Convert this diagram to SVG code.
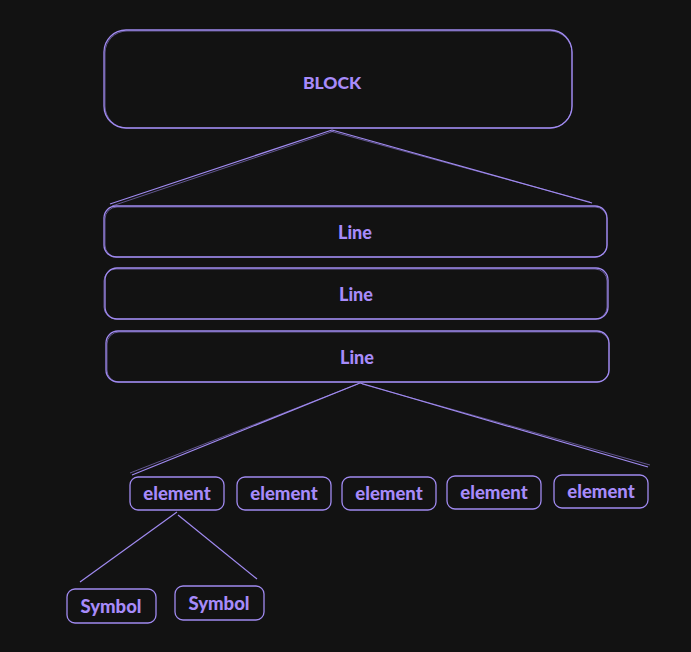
<svg xmlns="http://www.w3.org/2000/svg" width="691" height="652" viewBox="0 0 691 652">
<style>
.n{fill:#121212;stroke:#a08af0;stroke-width:1.3}
.n2{fill:none;stroke:#a08af0;stroke-width:0.8;opacity:0.7}
.t{fill:#a78bfa;font-family:Lato,"Open Sans",sans-serif;font-weight:900;text-anchor:middle;dominant-baseline:central}
.c{fill:none;stroke:#a08af0;stroke-width:1.2}
.c2{fill:none;stroke:#a08af0;stroke-width:0.8;opacity:0.7}
</style>
<rect width="691" height="652" fill="#121212"/>
<g id="connectors">
<path class="c" d="M332 130 L110 204"/><path class="c2" d="M334 131 L112 206"/>
<path class="c" d="M332 130 L592 203"/><path class="c2" d="M330 131 L590 202"/>
<path class="c" d="M360 383 L132 475"/><path class="c2" d="M358 384 L130 473"/>
<path class="c" d="M360 383 L648 467"/><path class="c2" d="M362 384 L650 465"/>
<path class="c" d="M177 512 L80 582"/>
<path class="c" d="M178 515 L257 579"/>
</g>
<g id="block"><rect class="n" x="104" y="30" width="468" height="98" rx="22"/><rect class="n2" x="105" y="31" width="467" height="97" rx="22"/><text class="t" x="332" y="82" font-size="17.5">BLOCK</text></g>
<g id="line1"><rect class="n" x="104" y="206" width="503" height="51" rx="12"/><rect class="n2" x="105" y="207" width="502" height="50" rx="12"/><text class="t" x="355" y="232" font-size="18">Line</text></g>
<g id="line2"><rect class="n" x="105" y="268" width="503" height="51" rx="12"/><rect class="n2" x="104" y="269" width="503" height="50" rx="12"/><text class="t" x="356" y="294" font-size="18">Line</text></g>
<g id="line3"><rect class="n" x="106" y="331" width="503" height="51" rx="12"/><rect class="n2" x="107" y="332" width="502" height="50" rx="12"/><text class="t" x="357" y="357" font-size="18">Line</text></g>
<g id="element1"><rect class="n" x="130" y="477" width="94" height="33" rx="8"/><text class="t" x="177" y="493" font-size="18.5">element</text></g>
<g id="element2"><rect class="n" x="237" y="477" width="94" height="33" rx="8"/><text class="t" x="284" y="493" font-size="18.5">element</text></g>
<g id="element3"><rect class="n" x="342" y="477" width="94" height="33" rx="8"/><text class="t" x="389" y="493" font-size="18.5">element</text></g>
<g id="element4"><rect class="n" x="447" y="476" width="94" height="33" rx="8"/><text class="t" x="494" y="492" font-size="18.5">element</text></g>
<g id="element5"><rect class="n" x="554" y="475" width="94" height="33" rx="8"/><text class="t" x="601" y="491" font-size="18.5">element</text></g>
<g id="symbol1"><rect class="n" x="67" y="589" width="89" height="34" rx="8"/><text class="t" x="111" y="606" font-size="18.5">Symbol</text></g>
<g id="symbol2"><rect class="n" x="175" y="586" width="89" height="34" rx="8"/><text class="t" x="219" y="603" font-size="18.5">Symbol</text></g>
</svg>
